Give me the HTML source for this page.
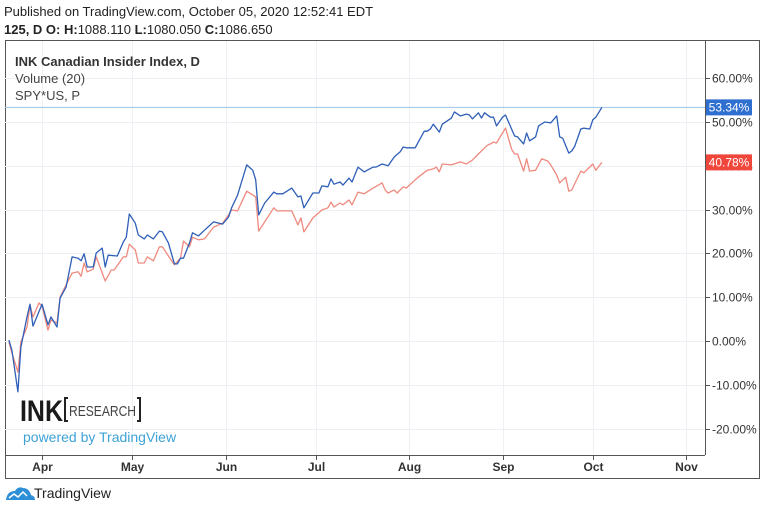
<!DOCTYPE html>
<html><head><meta charset="utf-8">
<style>
body{margin:0;background:#fff;font-family:"Liberation Sans",sans-serif;}
#wrap{position:relative;width:762px;height:512px;overflow:hidden;background:#fff;}
</style></head>
<body>
<div id="wrap">
<svg id="chart" width="762" height="512" xmlns="http://www.w3.org/2000/svg">
  <text x="4" y="16" font-size="13" fill="#222">Published on TradingView.com, October 05, 2020 12:52:41 EDT</text>
  <text x="4" y="34" font-size="13" fill="#222"><tspan font-weight="bold">125, D  O: </tspan><tspan font-weight="bold">H:</tspan>1088.110 <tspan font-weight="bold">L:</tspan>1080.050 <tspan font-weight="bold">C:</tspan>1086.650</text>
  <rect x="5.5" y="40.5" width="754" height="438" fill="none" stroke="#555" stroke-width="1"/>
  <g id="grid"></g>
  <line x1="5" y1="455.5" x2="705" y2="455.5" stroke="#555"/>
  <line x1="705.5" y1="40" x2="705.5" y2="455" stroke="#555"/>
  <g id="yticks"></g>
  <g id="xticks"></g>
  <g id="series"></g>
  <text x="15" y="66" font-size="13" font-weight="bold" fill="#333">INK Canadian Insider Index, D</text>
  <text x="15" y="83" font-size="13" fill="#444">Volume (20)</text>
  <text x="15" y="100" font-size="13" fill="#444">SPY*US, P</text>
  <g>
    <text x="20" y="421" font-size="30" font-weight="bold" fill="#1a1a1a" textLength="43" lengthAdjust="spacingAndGlyphs">INK</text>
    <path d="M68 398 h-3 v23 h3 M137 398 h3 v23 h-3" fill="none" stroke="#222" stroke-width="2"/>
    <text x="69" y="416" font-size="15" fill="#444" textLength="67" lengthAdjust="spacingAndGlyphs">RESEARCH</text>
  </g>
  <text x="23" y="442" font-size="14" fill="#3ea2d8">powered by TradingView</text>
  <g>
    <path d="M6 500 q1-9 9-9 q3-5 8-3 q6 0 8 7 q4 1 4 5 z" fill="#2d8fd8"/>
    <path d="M9 498 l5-4 4 3 5-5 4 4" fill="none" stroke="#fff" stroke-width="1.5"/>
    <text x="34" y="498" font-size="14" fill="#222">TradingView</text>
  </g>
</svg>
</div>
<script>
const blueDays=[-2,-1,1,2,4,5,6,9,11,12,14,15,17,19,21,22,23,24,26,27,29,30,31,34,36,37,38,40,41,43,44,46,48,49,51,53,54,55,56,58,59,61,63,66,69,71,72,74,77,79,80,81,83,86,87,89,92,94,95,96,99,101,102,104,105,106,108,109,111,112,114,116,119,120,122,124,126,128,129,130,133,134,136,137,138,139,141,142,145,146,148,150,151,152,154,155,156,158,159,160,162,163,166,167,169,170,171,173,174,176,178,180,181,182,184,185,186,188,189,191,192,193,195];
const blueValues=[0.2,-2.1,-11.6,-1.4,5.5,8.4,3.4,8.4,3.7,5.5,3.2,9.8,12.3,19.2,18.9,18.3,19.9,16.9,16.9,20.1,21.2,16.9,19.6,19.4,22.6,23.7,29.0,26.9,24.2,23.3,24.2,23.3,25.1,24.9,22.4,17.6,17.6,18.9,18.9,22.4,24.7,24.0,25.3,27.2,26.7,28.3,30.4,33.3,40.2,39.0,36.8,28.8,31.5,34.0,33.6,33.6,34.9,32.9,33.1,30.4,33.8,33.8,35.4,35.2,37.0,35.8,36.3,35.6,37.2,36.3,39.7,38.6,39.7,39.7,40.4,40.0,42.0,43.2,44.3,44.1,44.1,45.4,47.9,47.9,48.4,49.5,47.7,49.5,50.9,52.3,51.4,51.8,51.6,50.7,52.1,50.9,52.1,51.1,51.1,49.1,51.1,51.6,46.8,46.6,45.0,47.5,45.7,46.6,49.1,50.0,49.8,51.4,46.6,46.3,42.9,43.4,44.5,48.4,48.6,48.4,50.5,51.1,53.34];
const redDays=[-2,-1,1,2,4,5,6,8,9,11,12,14,15,17,19,21,22,23,24,26,27,30,32,33,36,37,38,40,41,43,44,46,48,49,51,53,55,56,58,59,61,63,66,69,71,72,74,77,80,81,86,87,89,92,94,95,96,99,102,104,105,106,108,109,111,112,114,116,119,122,123,124,126,127,129,130,133,134,137,139,140,141,142,145,148,150,152,154,155,157,158,159,160,163,165,166,167,169,170,171,173,175,177,178,180,181,183,184,185,188,189,192,193,195];
const redValues=[-0.2,-2.7,-7.1,-0.2,3.2,8.2,5.5,8.7,8.0,2.5,4.8,4.1,10.0,12.8,15.5,15.8,14.8,17.8,15.8,16.4,19.2,13.7,16.2,16.2,19.2,19.2,22.1,20.8,17.8,17.8,19.2,18.3,21.5,21.5,19.4,17.4,18.9,22.8,21.5,23.7,23.1,23.3,26.0,26.9,28.8,29.9,29.7,34.2,32.9,25.1,30.4,29.7,29.7,29.7,26.5,28.1,24.9,28.1,29.9,30.4,31.7,30.6,31.5,31.1,32.2,31.1,34.0,33.6,34.9,36.1,34.5,33.8,34.5,33.8,35.2,34.9,36.8,37.4,39.0,39.3,39.7,38.6,40.4,40.2,40.9,40.4,41.3,42.7,43.4,44.7,45.0,45.4,45.2,48.6,43.8,42.7,42.7,38.8,41.6,38.8,39.0,41.6,41.1,40.2,37.9,36.1,37.4,34.2,34.5,38.8,38.4,40.4,39.0,40.78];
const yTickValues=[60,50,40,30,20,10,0,-10,-20];
const yTickLabels=["60.00%","50.00%","40.00%","30.00%","20.00%","10.00%","0.00%","-10.00%","-20.00%"];
const monthLabels=["Apr","May","Jun","Jul","Aug","Sep","Oct","Nov"];
const monthDays=[9,39,70,100,131,162,192,223];

const NS="http://www.w3.org/2000/svg";
function xScale(d){return 42+(d-9)*3.01;}
function yScale(v){return 341-v*4.38;}
function mk(tag,attrs,parent){const e=document.createElementNS(NS,tag);for(const k in attrs)e.setAttribute(k,attrs[k]);parent.appendChild(e);return e;}
const grid=document.getElementById('grid'),yt=document.getElementById('yticks'),xt=document.getElementById('xticks'),ser=document.getElementById('series');
yTickValues.forEach((v,i)=>{
  const y=Math.round(yScale(v))+0.5;
  const g=mk('line',{x1:5,x2:705,y1:y,y2:y,stroke:'#edf1f5'},grid);
  
  
  const t=mk('line',{x1:705,x2:710,y1:y,y2:y,stroke:'#555'},yt);
  
  
  const l=mk('text',{x:712,y:y+4,'font-size':12,fill:'#333'},yt);
  l.textContent=yTickLabels[i];
  
  
});
monthDays.forEach((d,i)=>{
  const x=Math.round(xScale(d))+0.5;
  const g=mk('line',{x1:x,x2:x,y1:41,y2:455,stroke:'#edf1f5'},grid);
  
  
  const t=mk('line',{x1:x,x2:x,y1:455,y2:460,stroke:'#555'},xt);
  
  
  const l=mk('text',{x:x,y:471,'font-size':12,'font-weight':'bold',fill:'#333','text-anchor':'middle'},xt);
  l.textContent=monthLabels[i];
  
  
});
const lastB=blueValues[blueValues.length-1],lastR=redValues[redValues.length-1];
const pl=mk('line',{x1:5,x2:705,y1:yScale(lastB),y2:yScale(lastB),stroke:'#9cc7ea','stroke-width':1},ser);


function path(days,vals,color,name){
  const d=days.map((dd,i)=>(i?'L':'M')+xScale(dd).toFixed(1)+' '+yScale(vals[i]).toFixed(1)).join(' ');
  const p=mk('path',{d:d,fill:'none',stroke:color,'stroke-width':1.3,'stroke-linejoin':'round'},ser);
  
  
}
path(redDays,redValues,'#ef8a7e','spy-line');
path(blueDays,blueValues,'#2f5fb8','ink-index-line');
function badge(v,color,name){
  const y=yScale(v);
  const r=mk('rect',{x:706,y:y-8,width:46,height:16,fill:color},ser);
  
  
  const t=mk('text',{x:729,y:y+4,'font-size':12,fill:'#fff','text-anchor':'middle'},ser);
  t.textContent=v.toFixed(2)+'%';
  
  
}
badge(lastB,'#2f6fd0','ink-last-value-label');
badge(lastR,'#f0463c','spy-last-value-label');
</script>
</body></html>
